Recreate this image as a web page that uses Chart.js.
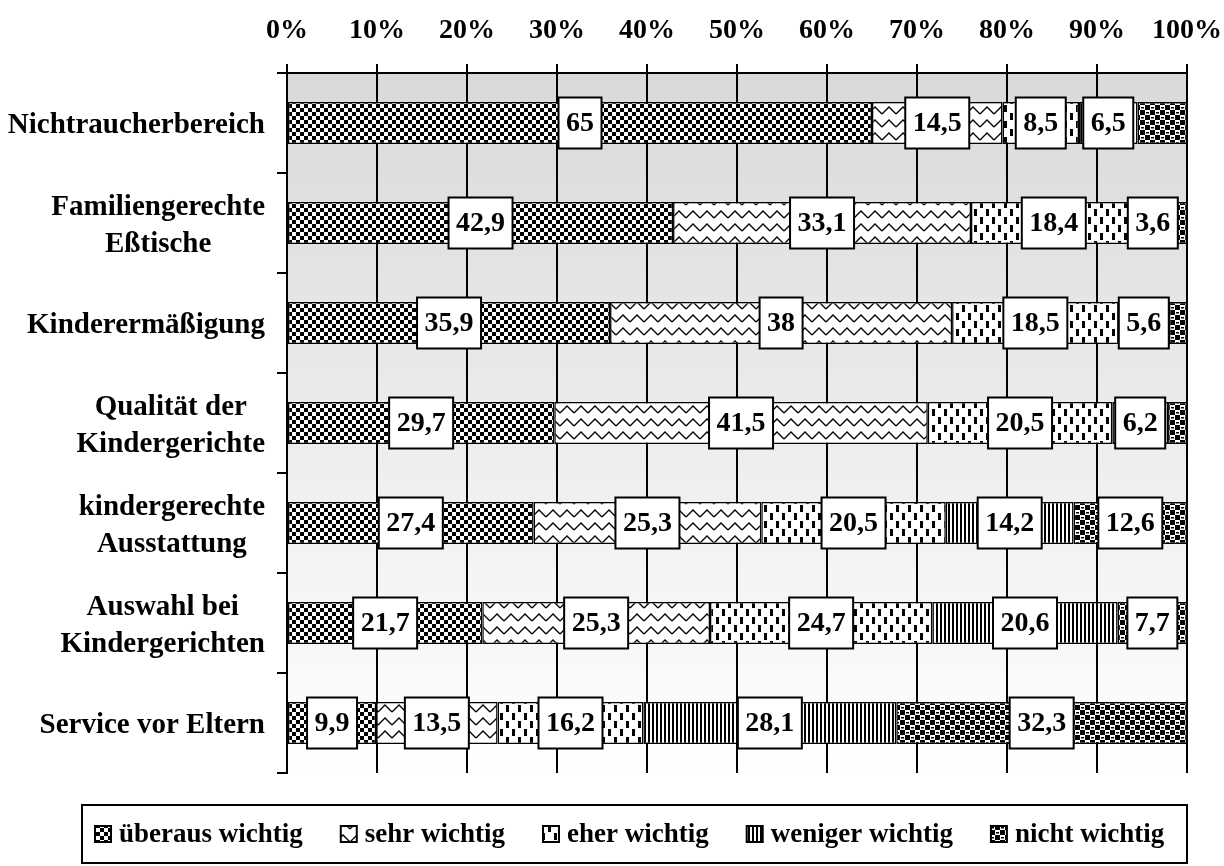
<!DOCTYPE html>
<html>
<head>
<meta charset="utf-8">
<script src="https://cdn.jsdelivr.net/npm/chart.js@4"></script>
<style>
  html, body { margin: 0; padding: 0; background: #fff; }
  #wrap { width: 1224px; height: 866px; }
</style>
</head>
<body>
<div id="wrap"><canvas id="chart"></canvas></div>
<script>
const categories = [
    ['Nichtraucherbereich'],
    ['Familiengerechte', 'Eßtische'],
    ['Kinderermäßigung'],
    ['Qualität der', 'Kindergerichte'],
    ['kindergerechte', 'Ausstattung'],
    ['Auswahl bei', 'Kindergerichten'],
    ['Service vor Eltern']
];
const seriesNames = ['überaus wichtig', 'sehr wichtig', 'eher wichtig', 'weniger wichtig', 'nicht wichtig'];
const ueberaus = [65, 42.9, 35.9, 29.7, 27.4, 21.7, 9.9];
const sehr     = [14.5, 33.1, 38, 41.5, 25.3, 25.3, 13.5];
const eher     = [8.5, 18.4, 18.5, 20.5, 20.5, 24.7, 16.2];
const weniger  = [6.5, 3.6, 5.6, 6.2, 14.2, 20.6, 28.1];
const nicht    = [5.5, 2.0, 2.0, 2.1, 12.6, 7.7, 32.3];
// the small rest segments in the first four rows carry no label
const nichtLabelled = [false, false, false, false, true, true, true];
const xTicks = [0, 10, 20, 30, 40, 50, 60, 70, 80, 90, 100];

const FONT = "'Liberation Serif', 'Times New Roman', serif";

function makePattern(w, h, draw) {
    const c = document.createElement('canvas');
    c.width = w; c.height = h;
    const g = c.getContext('2d');
    g.fillStyle = '#fff';
    g.fillRect(0, 0, w, h);
    g.fillStyle = '#000';
    g.strokeStyle = '#000';
    draw(g);
    return g.createPattern(c, 'repeat');
}

const patterns = [
    // checkerboard
    makePattern(8, 8, g => { g.fillRect(0, 0, 4, 4); g.fillRect(4, 4, 4, 4); }),
    // zigzag
    makePattern(14, 13, g => {
        g.lineWidth = 1.4;
        g.beginPath(); g.moveTo(0, 10); g.lineTo(7, 3); g.lineTo(14, 10); g.stroke();
    }),
    // staggered dashes
    makePattern(12, 16, g => { g.fillRect(2, 1, 3, 7); g.fillRect(8, 9, 3, 7); }),
    // dense vertical lines
    makePattern(4, 4, g => { g.fillRect(0, 0, 2, 4); }),
    // weave
    makePattern(10, 10, g => {
        g.fillRect(0, 0, 5, 5); g.fillRect(6, 2, 3, 1.5);
        g.fillRect(5, 5, 5, 5); g.fillRect(1, 7, 3, 1.5);
    })
];

const seriesValues = [ueberaus, sehr, eher, weniger, nicht];

const fmt = v => String(v).replace('.', ',');

const bgPlugin = {
    id: 'bg',
    beforeDraw(chart) {
        const { ctx, chartArea: a } = chart;
        const grad = ctx.createLinearGradient(0, a.top, 0, a.bottom);
        grad.addColorStop(0, '#d9d9d9');
        grad.addColorStop(1, '#ffffff');
        ctx.save();
        ctx.fillStyle = grad;
        ctx.fillRect(a.left, a.top, a.right - a.left, a.bottom - a.top);
        ctx.restore();
    }
};

const labelPlugin = {
    id: 'boxLabels',
    afterDatasetsDraw(chart) {
        const ctx = chart.ctx;
        ctx.save();
        ctx.font = 'bold 28px ' + FONT;
        ctx.textAlign = 'center';
        ctx.textBaseline = 'middle';
        chart.data.datasets.forEach((ds, d) => {
            chart.getDatasetMeta(d).data.forEach((bar, i) => {
                if (d === 4 && !nichtLabelled[i]) return;
                const txt = fmt(ds.data[i]);
                const cx = (bar.x + bar.base) / 2;
                const w = ctx.measureText(txt).width + 15;
                const h = 51;
                ctx.fillStyle = '#fff';
                ctx.fillRect(cx - w / 2, bar.y - h / 2, w, h);
                ctx.lineWidth = 2;
                ctx.strokeStyle = '#000';
                ctx.strokeRect(cx - w / 2, bar.y - h / 2, w, h);
                ctx.fillStyle = '#000';
                ctx.fillText(txt, cx, bar.y + 1);
            });
        });
        ctx.restore();
    }
};

const sidePlugin = {
    id: 'sideLabels',
    afterDraw(chart) {
        const ctx = chart.ctx;
        const y = chart.scales.y;
        ctx.save();
        ctx.font = 'bold 29px ' + FONT;
        ctx.fillStyle = '#000';
        ctx.textBaseline = 'middle';
        ctx.textAlign = 'center';
        const right = 265, lineH = 37;
        categories.forEach((lines, i) => {
            const cy = y.getPixelForValue(i) + 3;
            const widest = Math.max(...lines.map(l => ctx.measureText(l).width));
            const cx = right - widest / 2;
            lines.forEach((l, k) => {
                ctx.fillText(l, cx, cy + (k - (lines.length - 1) / 2) * lineH);
            });
        });

        // legend in a framed box
        ctx.lineWidth = 2;
        ctx.strokeStyle = '#000';
        ctx.strokeRect(82, 805, 1105, 58);
        ctx.font = 'bold 27px ' + FONT;
        ctx.textAlign = 'left';
        const icon = 16, gapIcon = 8, gapItem = 38;
        let x = 95;
        const ly = 834;
        seriesNames.forEach((n, k) => {
            ctx.fillStyle = patterns[k];
            ctx.fillRect(x, ly - icon / 2, icon, icon);
            ctx.strokeRect(x, ly - icon / 2, icon, icon);
            ctx.fillStyle = '#000';
            ctx.fillText(n, x + icon + gapIcon, ly + 1);
            x += icon + gapIcon + ctx.measureText(n).width + gapItem;
        });
        ctx.restore();
    }
};

const ctx = document.getElementById('chart').getContext('2d');
const chart = new Chart(ctx, {
    type: 'bar',
    data: {
        labels: categories.map(l => l.join(' ')),
        datasets: seriesNames.map((name, k) => ({
            label: name,
            data: seriesValues[k],
            backgroundColor: patterns[k],
            borderColor: '#000',
            borderWidth: 1.5,
            borderSkipped: false,
            barPercentage: 0.42,
            categoryPercentage: 1
        }))
    },
    options: {
        indexAxis: 'y',
        responsive: true,
        maintainAspectRatio: false,
        animation: false,
        layout: { padding: { left: 0, top: 0, right: 37, bottom: 93 } },
        scales: {
            x: {
                position: 'top',
                stacked: true,
                min: 0,
                max: 100,
                afterBuildTicks: s => { s.ticks = xTicks.map(v => ({ value: v })); },
                afterFit: s => { s.height = 73; s.paddingLeft = 0; s.paddingRight = 0; },
                ticks: {
                    callback: v => v + '%',
                    color: '#000',
                    padding: 16,
                    maxRotation: 0,
                    font: { family: FONT, size: 28, weight: 'bold' }
                },
                grid: { color: '#000', lineWidth: 2, tickLength: 9 },
                border: { color: '#000', width: 2 }
            },
            y: {
                stacked: true,
                afterFit: s => { s.width = 287; },
                ticks: { display: false },
                grid: {
                    offset: true,
                    drawOnChartArea: true,
                    color: c => (c.index === categories.length ? '#000' : 'rgba(0,0,0,0)'),
                    tickColor: '#000',
                    lineWidth: 2,
                    tickLength: 10
                },
                border: { color: '#000', width: 2 }
            }
        },
        plugins: {
            legend: { display: false },
            tooltip: { enabled: false }
        }
    },
    plugins: [bgPlugin, labelPlugin, sidePlugin]
});
</script>
</body>
</html>
